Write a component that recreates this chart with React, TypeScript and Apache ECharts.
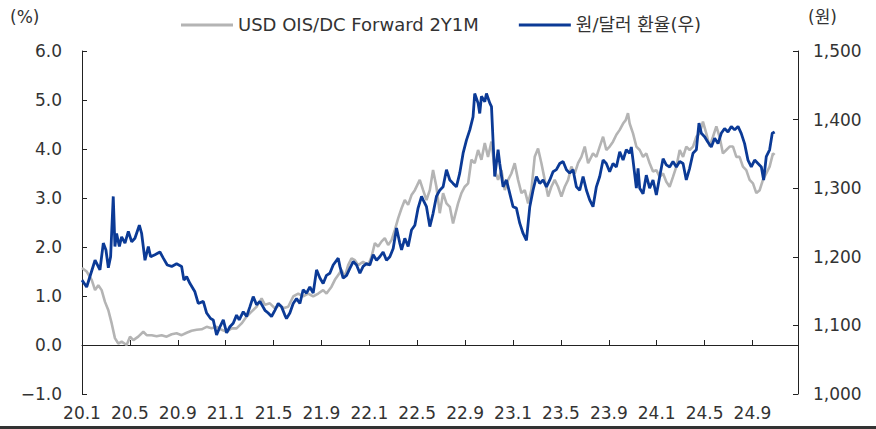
import React, { useEffect, useRef } from "react";
import * as echarts from "echarts";

// x = months since 2020-01 (0 = 20.1)
const xTickLabels = ["20.1", "20.5", "20.9", "21.1", "21.5", "21.9", "22.1", "22.5", "22.9", "23.1", "23.5", "23.9", "24.1", "24.5", "24.9"];

const oisName = "USD OIS/DC Forward 2Y1M";
const krwName = "원/달러 환율(우)";

const oisMonths = [
  0, 0.39, 0.81, 1.09, 1.36, 1.64, 1.92, 2.2, 2.48, 2.75, 3.03, 3.31, 3.73, 4.01, 4.29, 4.7, 5.12, 5.4, 5.82, 6.23,
  6.65, 7.07, 7.49, 7.9, 8.32, 8.74, 9.15, 9.57, 9.99, 10.41, 10.82, 11.24, 11.66, 12.08, 12.49, 12.91, 13.33, 13.75, 14.16, 14.58,
  15.0, 15.28, 15.69, 16.11, 16.53, 16.8, 17.22, 17.64, 18.06, 18.47, 18.89, 19.31, 19.73, 20.14, 20.42, 20.84, 21.12, 21.4, 21.68, 21.95,
  22.23, 22.51, 22.79, 23.07, 23.48, 23.9, 24.18, 24.46, 24.73, 25.01, 25.29, 25.57, 25.85, 26.13, 26.41, 26.69, 26.96, 27.24, 27.52, 27.8,
  28.21, 28.49, 28.77, 29.05, 29.32, 29.6, 29.88, 30.16, 30.44, 30.72, 30.99, 31.13, 31.41, 31.69, 31.97, 32.25, 32.52, 32.8, 33.08, 33.36,
  33.64, 33.91, 34.2, 34.47, 34.75, 35.03, 35.31, 35.59, 35.86, 36.14, 36.42, 36.7, 36.98, 37.26, 37.53, 37.81, 38.09, 38.37, 38.65, 38.93,
  39.2, 39.48, 39.76, 40.04, 40.32, 40.6, 40.87, 41.15, 41.43, 41.71, 41.99, 42.27, 42.68, 42.96, 43.24, 43.52, 43.79, 44.07, 44.35, 44.63,
  44.91, 45.19, 45.41, 45.6, 45.74, 46.02, 46.3, 46.58, 46.86, 47.13, 47.41, 47.69, 47.97, 48.25, 48.53, 48.8, 49.08, 49.36, 49.64, 49.92,
  50.2, 50.47, 50.75, 51.03, 51.31, 51.59, 51.86, 52.14, 52.42, 52.7, 52.98, 53.25, 53.53, 53.81, 54.09, 54.37, 54.65, 54.92, 55.2, 55.48,
  55.76, 56.04, 56.32, 56.6, 56.87, 57.15, 57.43, 57.71, 57.85,
];
const oisValues = [
  1.57, 1.5, 1.33, 1.12, 1.22, 1.12, 0.88, 0.71, 0.44, 0.14, 0.03, 0.07, 0.0, 0.17, 0.1, 0.17, 0.27, 0.2, 0.2, 0.18,
  0.2, 0.17, 0.22, 0.24, 0.2, 0.25, 0.29, 0.31, 0.32, 0.37, 0.34, 0.37, 0.31, 0.27, 0.34, 0.34, 0.44, 0.58, 0.68, 0.78,
  0.95, 0.82, 0.85, 0.75, 0.82, 0.75, 0.78, 0.99, 1.05, 0.99, 1.05, 0.99, 1.05, 1.12, 1.05, 1.19, 1.33, 1.43, 1.53, 1.39,
  1.63, 1.77, 1.73, 1.63, 1.7, 1.63, 1.8, 2.08, 2.01, 2.11, 2.18, 2.04, 2.14, 2.35, 2.59, 2.79, 2.96, 2.86, 3.06, 3.16,
  3.37, 3.16, 2.96, 3.16, 3.57, 3.23, 2.69, 3.1, 2.89, 2.82, 2.48, 2.62, 2.89, 3.1, 3.23, 3.3, 3.78, 3.71, 3.98, 3.78,
  4.12, 3.84, 4.15, 3.57, 3.37, 3.57, 3.16, 3.37, 3.5, 3.71, 3.37, 3.1, 3.16, 2.89, 3.16, 3.84, 4.01, 3.71, 3.37, 3.03,
  3.23, 3.37, 3.23, 3.03, 3.23, 3.37, 3.64, 3.5, 3.71, 3.84, 4.05, 3.71, 3.91, 3.84, 4.05, 4.25, 3.98, 4.05, 4.15, 4.29,
  4.39, 4.52, 4.59, 4.73, 4.52, 4.32, 4.05, 3.98, 3.84, 3.91, 3.71, 3.54, 3.57, 3.43, 3.5, 3.33, 3.23, 3.43, 3.64, 3.98,
  3.84, 4.05, 3.98, 4.05, 4.25, 4.32, 4.56, 4.32, 4.05, 4.25, 4.46, 4.25, 3.91, 3.98, 4.05, 4.05, 3.84, 3.84, 3.64, 3.57,
  3.37, 3.3, 3.1, 3.16, 3.37, 3.5, 3.64, 3.91, 3.88,
];

const krwMonths = [
  0, 0.39, 1.09, 1.5, 1.78, 2.0, 2.2, 2.39, 2.61, 2.75, 2.89, 3.12, 3.31, 3.59, 3.87, 4.15, 4.42, 4.79, 4.98, 5.26,
  5.54, 5.73, 6.09, 6.51, 6.79, 7.12, 7.49, 7.9, 8.32, 8.51, 8.74, 9.02, 9.43, 9.71, 10.13, 10.41, 10.74, 10.96, 11.24, 11.52,
  11.8, 12.08, 12.35, 12.63, 12.91, 13.13, 13.47, 13.75, 14.02, 14.3, 14.58, 14.86, 15.28, 15.55, 15.83, 16.11, 16.39, 16.67, 16.94, 17.08,
  17.36, 17.64, 17.92, 18.2, 18.47, 18.75, 19.03, 19.31, 19.59, 19.87, 20.14, 20.42, 20.7, 20.98, 21.4, 21.54, 21.81, 22.1, 22.37, 22.65,
  22.93, 23.21, 23.48, 23.76, 24.04, 24.32, 24.6, 24.87, 25.15, 25.43, 25.71, 25.99, 26.27, 26.54, 26.69, 26.96, 27.24, 27.52, 27.8, 28.07,
  28.36, 28.49, 28.77, 29.05, 29.32, 29.6, 29.88, 30.16, 30.44, 30.72, 30.99, 31.27, 31.55, 31.83, 32.11, 32.39, 32.66, 32.8, 33.08, 33.22,
  33.36, 33.64, 33.78, 34.06, 34.2, 34.47, 34.75, 34.89, 35.17, 35.45, 35.73, 36.0, 36.28, 36.56, 36.84, 37.12, 37.4, 37.67, 37.95, 38.23,
  38.51, 38.79, 39.07, 39.34, 39.62, 39.9, 40.18, 40.46, 40.73, 41.01, 41.29, 41.57, 41.85, 42.13, 42.4, 42.68, 42.96, 43.24, 43.52, 43.79,
  44.07, 44.35, 44.63, 44.91, 45.19, 45.46, 45.74, 45.88, 46.02, 46.3, 46.44, 46.58, 46.86, 47.13, 47.41, 47.69, 47.97, 48.25, 48.53, 48.8,
  49.08, 49.36, 49.64, 49.92, 50.2, 50.47, 50.75, 51.03, 51.31, 51.53, 51.73, 52.0, 52.28, 52.56, 52.84, 53.12, 53.39, 53.67, 53.95, 54.23,
  54.51, 54.79, 55.06, 55.34, 55.62, 55.9, 56.18, 56.46, 56.74, 56.93, 57.15, 57.43, 57.65, 57.85,
];
const krwValues = [
  1166, 1156, 1195, 1181, 1220, 1210, 1184, 1200, 1288, 1215, 1234, 1215, 1229, 1220, 1237, 1222, 1227, 1246, 1234, 1195,
  1215, 1200, 1203, 1207, 1198, 1188, 1186, 1190, 1186, 1166, 1171, 1161, 1149, 1132, 1135, 1118, 1110, 1108, 1086, 1098,
  1108, 1089, 1098, 1103, 1115, 1108, 1120, 1113, 1127, 1142, 1130, 1135, 1122, 1118, 1113, 1122, 1132, 1127, 1115, 1110,
  1118, 1132, 1139, 1132, 1152, 1147, 1156, 1147, 1181, 1169, 1161, 1173, 1176, 1188, 1198, 1186, 1169, 1173, 1183, 1193,
  1188, 1176, 1186, 1190, 1188, 1203, 1195, 1200, 1207, 1195, 1200, 1212, 1242, 1220, 1210, 1227, 1215, 1239, 1246, 1271,
  1288, 1283, 1273, 1244, 1263, 1288, 1297, 1302, 1327, 1312, 1307, 1302, 1322, 1351, 1370, 1385, 1404, 1438, 1424, 1409,
  1434, 1426, 1438, 1424, 1419, 1317, 1356, 1336, 1302, 1312, 1292, 1273, 1271, 1249, 1234, 1224, 1273, 1297, 1317, 1307,
  1312, 1302, 1312, 1324, 1327, 1336, 1339, 1327, 1322, 1327, 1302, 1297, 1317, 1297, 1283, 1273, 1302, 1317, 1341, 1336,
  1324, 1336, 1331, 1353, 1341, 1356, 1351, 1360, 1341, 1300, 1329, 1300, 1292, 1319, 1300, 1312, 1290, 1317, 1343, 1334,
  1331, 1339, 1331, 1339, 1336, 1312, 1329, 1351, 1356, 1395, 1380, 1375, 1367, 1360, 1373, 1365, 1380, 1387, 1382, 1390,
  1385, 1390, 1380, 1365, 1341, 1331, 1341, 1336, 1331, 1312, 1346, 1356, 1380, 1382,
];

const FONT = "'DejaVu Sans', 'Noto Sans CJK KR', sans-serif";
const TEXT = "#333333";
const AXIS = "#222222";

export default function App() {
  const ref = useRef<HTMLDivElement>(null);
  useEffect(() => {
    if (!ref.current) return;
    const chart = echarts.init(ref.current, undefined, { renderer: "svg" });
    const xFmt = (v: number) => {
      const i = Math.round(v / 4);
      if (Math.abs(v - i * 4) > 0.01) return "";
      return xTickLabels[i] ?? "";
    };
    chart.setOption({
      animation: false,
      backgroundColor: "#ffffff",
      grid: { left: 82, right: 78, top: 51, bottom: 35, containLabel: false },
      legend: {
        left: 176,
        top: 11,
        icon: "rect",
        itemWidth: 52,
        itemHeight: 3,
        itemGap: 40,
        textStyle: { fontFamily: FONT, fontSize: 18, color: TEXT },
        data: [oisName, krwName],
      },
      xAxis: [
        {
          type: "value",
          min: 0,
          max: 59.8,
          interval: 4,
          position: "bottom",
          axisLine: { show: false, onZero: false },
          axisTick: { show: false },
          splitLine: { show: false },
          axisLabel: { margin: 10, fontFamily: FONT, fontSize: 17, color: TEXT, formatter: xFmt },
        },
        {
          type: "value",
          min: 0,
          max: 59.8,
          interval: 4,
          position: "bottom",
          axisLine: { show: true, onZero: true, onZeroAxisIndex: 0, lineStyle: { color: AXIS, width: 1 } },
          axisTick: { show: true, inside: true, length: 5, lineStyle: { color: AXIS } },
          axisLabel: { show: false },
          splitLine: { show: false },
        },
      ],
      yAxis: [
        {
          type: "value",
          min: -1,
          max: 6,
          interval: 1,
          position: "left",
          axisLine: { show: true, onZero: false, lineStyle: { color: AXIS, width: 1 } },
          axisTick: { show: true, inside: true, length: 5, lineStyle: { color: AXIS } },
          splitLine: { show: false },
          axisLabel: {
            margin: 20,
            fontFamily: FONT,
            fontSize: 17,
            color: TEXT,
            formatter: (v: number) => (v < 0 ? "\u2212" + Math.abs(v).toFixed(1) : v.toFixed(1)),
          },
        },
        {
          type: "value",
          min: 1000,
          max: 1500,
          interval: 100,
          position: "right",
          axisLine: { show: true, onZero: false, lineStyle: { color: AXIS, width: 1 } },
          axisTick: { show: true, inside: true, length: 5, lineStyle: { color: AXIS } },
          splitLine: { show: false },
          axisLabel: {
            margin: 15,
            fontFamily: FONT,
            fontSize: 17,
            color: TEXT,
            formatter: (v: number) => v.toLocaleString("en-US"),
          },
        },
      ],
      graphic: [
        { type: "text", x: 10, y: 17, style: { text: "(%)", fontFamily: FONT, fontSize: 17, fill: TEXT, align: "left", verticalAlign: "middle" } },
        { type: "text", x: 808, y: 17, style: { text: "(원)", fontFamily: FONT, fontSize: 17, fill: TEXT, align: "left", verticalAlign: "middle" } },
        { type: "rect", shape: { x: 0, y: 426, width: 876, height: 3 }, style: { fill: "#333333" } },
      ],
      series: [
        {
          name: oisName,
          type: "line",
          xAxisIndex: 0,
          yAxisIndex: 0,
          showSymbol: false,
          symbol: "none",
          color: "#B4B4B4",
          lineStyle: { color: "#B4B4B4", width: 2.6 },
          data: oisMonths.map((m, i) => [m, oisValues[i]]),
          z: 2,
        },
        {
          name: krwName,
          type: "line",
          xAxisIndex: 0,
          yAxisIndex: 1,
          showSymbol: false,
          symbol: "none",
          color: "#0B3A96",
          lineStyle: { color: "#0B3A96", width: 2.8 },
          data: krwMonths.map((m, i) => [m, krwValues[i]]),
          z: 3,
        },
      ],
    });
    return () => chart.dispose();
  }, []);
  return (
    <div
      ref={ref}
      style={{ position: "absolute", left: 0, top: 0, width: 876, height: 429, background: "#fff" }}
    />
  );
}
